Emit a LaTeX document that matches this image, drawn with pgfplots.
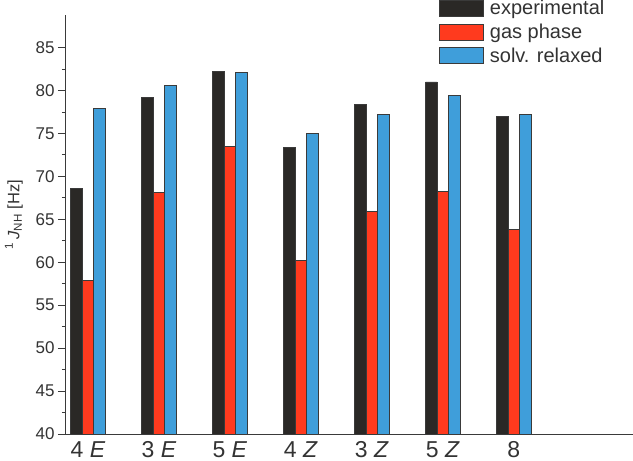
\documentclass[border=0pt]{standalone}
\usepackage{fontspec}
\setmainfont{Liberation Sans}
\usepackage{pgfplots}
\pgfplotsset{compat=1.18}
\usetikzlibrary{calc}
\definecolor{cblack}{HTML}{2A2826}
\definecolor{cred}{HTML}{FF3A1E}
\definecolor{cblue}{HTML}{3F9EDA}
\definecolor{cedge}{HTML}{3A3A3A}
\definecolor{ctext}{HTML}{333333}
\begin{document}
\begin{tikzpicture}
\begin{axis}[
  scale only axis,
  width=567pt, height=419pt,
  ybar=0pt, bar width=11.5pt,
  xmin=-0.31, xmax=7.68,
  ymin=40, ymax=88.8,
  axis x line*=bottom, axis y line*=left,
  axis line style={draw=cedge, line width=1pt},
  xtick={0,1,2,3,4,5,6},
  xticklabels={4 \textit{E},3 \textit{E},5 \textit{E},4 \textit{Z},3 \textit{Z},5 \textit{Z},8},
  x tick label style={font=\fontsize{23}{26}\selectfont, text=ctext, inner ysep=2pt, yshift=3pt},
  major x tick style={draw=none},
  ytick={40,45,...,85},
  minor y tick num=1,
  tick align=outside,
  major tick length=8pt, minor tick length=4pt,
  y tick style={draw=cedge, line width=1pt},
  y tick label style={font=\fontsize{17}{20}\selectfont, text=ctext},
  /pgf/number format/assume math mode=true,
  ylabel={\textsuperscript{1}\,\textit{J}\textsubscript{NH} [Hz]},
  ylabel style={font=\fontsize{16.5}{19}\selectfont, text=ctext, yshift=6pt, xshift=10pt},
  legend cell align=left,
  legend style={draw=none, fill=none, at={(rel axis cs:0.658,1.036)}, anchor=north west,
    inner sep=0pt, row sep=7pt, column sep=6pt, font=\fontsize{20}{22}\selectfont, text=ctext,
    nodes={inner sep=0pt}},
  legend image code/.code={\draw[#1] (0pt,-8pt) rectangle (44pt,8pt);},
]
\addplot[fill=cblack, draw=cedge, line width=0.6pt] coordinates {(0,68.6) (1,79.2) (2,82.2) (3,73.4) (4,78.4) (5,81.0) (6,77.0)};
\addplot[fill=cred, draw=cedge, line width=0.6pt] coordinates {(0,57.9) (1,68.1) (2,73.5) (3,60.2) (4,65.9) (5,68.3) (6,63.8)};
\addplot[fill=cblue, draw=cedge, line width=0.6pt] coordinates {(0,77.9) (1,80.6) (2,82.1) (3,75.0) (4,77.2) (5,79.4) (6,77.2)};
\legend{experimental, gas phase, solv. relaxed}
\end{axis}
\pgfresetboundingbox
\path ($(current axis.south west)+(-66pt,-27pt)$) rectangle ($(current axis.north east)+(0pt,15pt)$);
\end{tikzpicture}
\end{document}
